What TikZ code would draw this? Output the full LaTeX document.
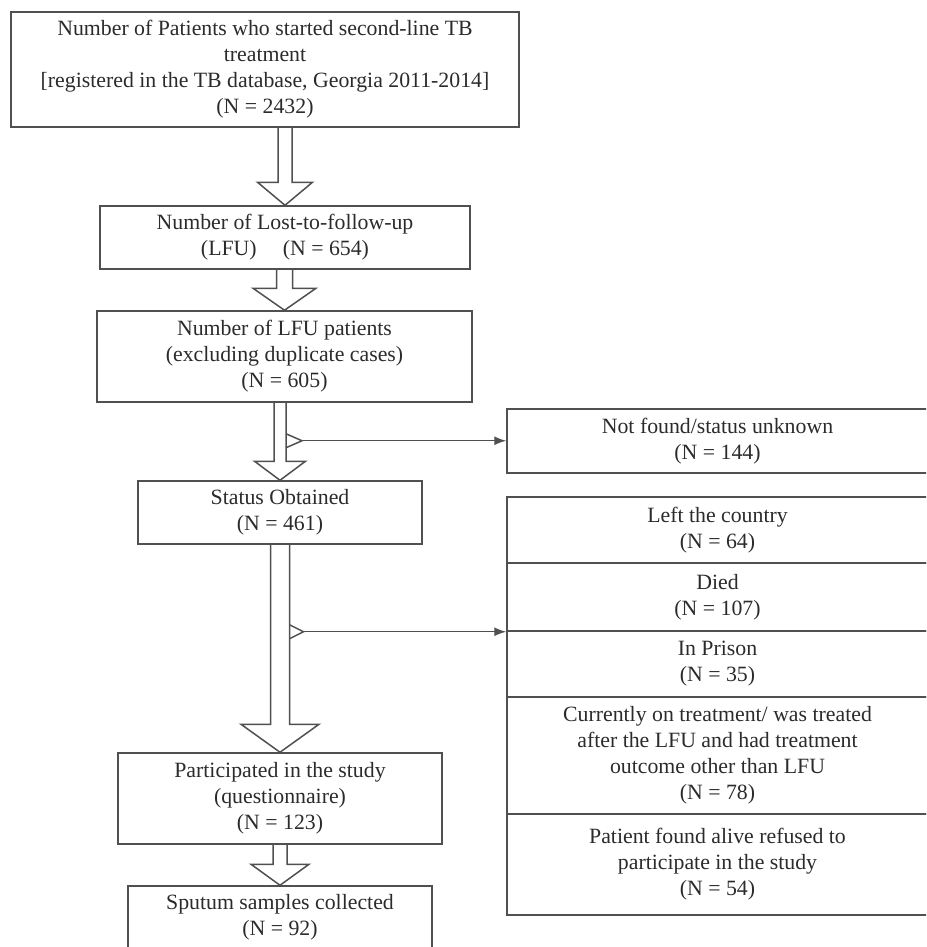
\documentclass[tikz,border=0pt]{standalone}
\usepackage{fontspec}
\setmainfont{Liberation Serif}
\usetikzlibrary{calc,arrows.meta}
\definecolor{linegray}{HTML}{505050}
\definecolor{textgray}{HTML}{2B2B2B}
\tikzset{
  box/.style={draw=linegray, line width=0.75pt, align=center, inner sep=0pt, text=textgray},
  fatline/.style={draw=linegray, line width=0.75pt, line join=miter},
  thinline/.style={draw=linegray, line width=0.7pt},
}
% block arrow from the bottom of #1 to the top of #2
% #3 shaft half width, #4 head half width, #5 head length
\newcommand{\fatarrow}[5]{%
  \draw[fatline] ($(#1.south -| #2.north)+(-#3,0)$) -- ($(#2.north)+(-#3,-#5)$)
    -- ($(#2.north)+(-#4,-#5)$) -- (#2.north) -- ($(#2.north)+(#4,-#5)$)
    -- ($(#2.north)+(#3,-#5)$) -- ($(#1.south -| #2.north)+(#3,0)$);}
\begin{document}
\begin{tikzpicture}[x=0.5pt, y=-0.5pt, font=\fontsize{10.9}{13}\selectfont]
  \useasboundingbox (0,0) rectangle (926,947);
  \clip (0,0) rectangle (926,947);

  % main column
  \node[box, minimum width=254pt, minimum height=57.5pt] (total) at (265,69.5)
    {Number of Patients who started second-line TB\\ treatment\\
     {[registered in the TB database, Georgia 2011-2014]}\\ (N = 2432)};
  \node[box, minimum width=185pt, minimum height=31.5pt] (lfu) at (285,237.5)
    {Number of Lost-to-follow-up\\ (LFU)\hspace{1.2em}(N = 654)};
  \node[box, minimum width=187.5pt, minimum height=45.5pt] (nodup) at (284.5,356.5)
    {Number of LFU patients\\ (excluding duplicate cases)\\ (N = 605)};
  \node[box, minimum width=142pt, minimum height=31.5pt] (status) at (280,512.5)
    {Status Obtained\\ (N = 461)};
  \node[box, minimum width=162pt, minimum height=45.5pt] (study) at (280,798.5)
    {Participated in the study\\ (questionnaire)\\ (N = 123)};
  \node[box, minimum width=152pt, minimum height=31.5pt] (sputum) at (280,917.5)
    {Sputum samples collected\\ (N = 92)};

  % right column
  \node[box, minimum width=210.5pt, minimum height=32pt] (notfound) at (717.5,441)
    {Not found/status unknown\\ (N = 144)};
  \node[box, minimum width=210.5pt, minimum height=33pt] (left) at (717.5,530)
    {Left the country\\ (N = 64)};
  \node[box, minimum width=210.5pt, minimum height=34pt] (died) at (717.5,597)
    {Died\\ (N = 107)};
  \node[box, minimum width=210.5pt, minimum height=33pt] (prison) at (717.5,664)
    {In Prison\\ (N = 35)};
  \node[box, minimum width=210.5pt, minimum height=58.5pt] (treated) at (717.5,755.5)
    {Currently on treatment/ was treated\\ after the LFU and had treatment\\
     outcome other than LFU\\ (N = 78)};
  \node[box, minimum width=210.5pt, minimum height=50.5pt] (refused) at (717.5,864.5)
    {Patient found alive refused to\\ participate in the study\\ (N = 54)};

  % block arrows
  \fatarrow{total}{lfu}{7}{27.5}{23}
  \fatarrow{lfu}{nodup}{8}{31.5}{22}
  \fatarrow{nodup}{status}{6}{25.5}{19}
  \fatarrow{status}{study}{9.5}{39}{28}
  \fatarrow{study}{sputum}{7}{29}{21}

  % side branches
  \coordinate (b1) at ($(nodup.south -| status.north)+(6,38)$);
  \draw[fatline] ($(b1)+(0,-7)$) -- ++(16,7) coordinate (t1) -- ++(-16,7);
  \draw[thinline, -{Latex[length=6pt, width=4.5pt]}] (t1) -- (t1 -| notfound.west);

  \coordinate (b2) at ($(status.south -| study.north)+(9.5,87)$);
  \draw[fatline] ($(b2)+(0,-7)$) -- ++(14,7) coordinate (t2) -- ++(-14,7);
  \draw[thinline, -{Latex[length=6pt, width=4.5pt]}] (t2) -- (t2 -| died.west);
\end{tikzpicture}
\end{document}
